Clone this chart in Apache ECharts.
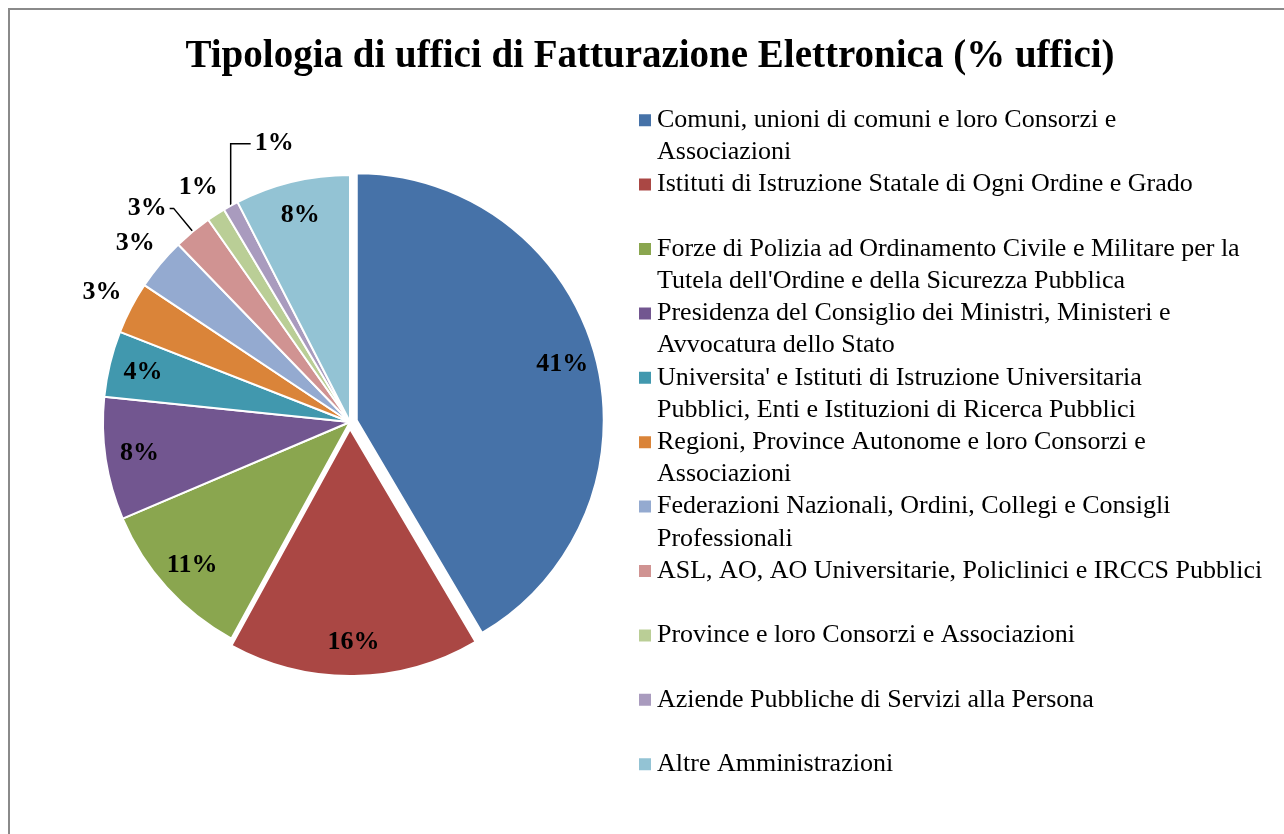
<!DOCTYPE html>
<html>
<head>
<meta charset="utf-8">
<script src="https://cdn.jsdelivr.net/npm/echarts@6/dist/echarts.min.js"></script>
<style>
  html, body { margin: 0; padding: 0; background: #fff; overflow: hidden; }
  .frame {
    position: absolute;
    left: 8px;
    top: 8px;
    width: 1300px;
    height: 850px;
    border: 2px solid #8a8a8a;
    box-sizing: border-box;
  }
  #chart { width: 1296px; height: 846px; }
</style>
</head>
<body>
<div class="frame"><div id="chart"></div></div>
<script>
let categories = [
  "Comuni, unioni di comuni e loro Consorzi e Associazioni",
  "Istituti di Istruzione Statale di Ogni Ordine e Grado",
  "Forze di Polizia ad Ordinamento Civile e Militare per la Tutela dell'Ordine e della Sicurezza Pubblica",
  "Presidenza del Consiglio dei Ministri, Ministeri e Avvocatura dello Stato",
  "Universita' e Istituti di Istruzione Universitaria Pubblici, Enti e Istituzioni di Ricerca Pubblici",
  "Regioni, Province Autonome e loro Consorzi e Associazioni",
  "Federazioni Nazionali, Ordini, Collegi e Consigli Professionali",
  "ASL, AO, AO Universitarie, Policlinici e IRCCS Pubblici",
  "Province e loro Consorzi e Associazioni",
  "Aziende Pubbliche di Servizi alla Persona",
  "Altre Amministrazioni"
]
// legend text as wrapped in the original (every entry takes two lines)
let legendText = [
  "Comuni, unioni di comuni e loro Consorzi e\nAssociazioni",
  "Istituti di Istruzione Statale di Ogni Ordine e Grado\n ",
  "Forze di Polizia ad Ordinamento Civile e Militare per la\nTutela dell'Ordine e della Sicurezza Pubblica",
  "Presidenza del Consiglio dei Ministri, Ministeri e\nAvvocatura dello Stato",
  "Universita' e Istituti di Istruzione Universitaria\nPubblici, Enti e Istituzioni di Ricerca Pubblici",
  "Regioni, Province Autonome e loro Consorzi e\nAssociazioni",
  "Federazioni Nazionali, Ordini, Collegi e Consigli\nProfessionali",
  "ASL, AO, AO Universitarie, Policlinici e IRCCS Pubblici\n ",
  "Province e loro Consorzi e Associazioni\n ",
  "Aziende Pubbliche di Servizi alla Persona\n ",
  "Altre Amministrazioni\n "
]
// % uffici
let values = [41.4, 16.4, 10.6, 8.0, 4.3, 3.4, 3.4, 2.5, 1.2, 1.0, 7.5]
let colors = ['#4672a8', '#aa4744', '#8aa64f', '#725690', '#4198ae', '#da8439',
  '#94aad0', '#d09392', '#bace96', '#a99bbe', '#93c3d4']
// where each label sits: inner ring, outer ring, or with a leader line
let labelPlace = ['in', 'in', 'in', 'in', 'in', 'out', 'out', 'line', 'out', 'line', 'in']
let exploded = [0, 1]

const FONT = '"Liberation Serif", "DejaVu Serif", serif'
const center = [340, 412]
const R = 247

let mychart = echarts.init(document.getElementById('chart'))

let labelFmt = (p) => Math.round(p.value) + '%'
let labelStyle = {
  fontFamily: FONT,
  fontWeight: 'bold',
  fontSize: 26,
  color: '#000'
}

let mainData = categories.map((name, i) => {
  let item = {
    name: name,
    value: values[i],
    selected: exploded.indexOf(i) >= 0,
    itemStyle: { color: colors[i] },
    label: { show: false },
    labelLine: { show: false }
  }
  if (labelPlace[i] === 'line') {
    item.label = { show: true, position: 'outside' }
    item.labelLine = { show: true, length: 30, length2: 4 }
  }
  return item
})

let ringData = (place) => categories.map((name, i) => ({
  name: name,
  value: values[i],
  selected: exploded.indexOf(i) >= 0,
  label: { show: labelPlace[i] === place },
  select: { label: { show: labelPlace[i] === place } }
}))

// invisible rings that only carry labels, drawn above the real pie
let ringSeries = (place, radius) => ({
  type: 'pie',
  z: 5,
  center: center,
  radius: radius,
  startAngle: 90,
  clockwise: true,
  silent: true,
  selectedMode: 'multiple',
  selectedOffset: 7,
  itemStyle: { color: 'rgba(0,0,0,0)', borderWidth: 0 },
  select: {
    itemStyle: { color: 'rgba(0,0,0,0)', borderWidth: 0 },
    label: Object.assign({}, labelStyle)
  },
  emphasis: { disabled: true },
  label: Object.assign({ position: 'inside', formatter: labelFmt }, labelStyle),
  labelLine: { show: false },
  tooltip: { show: false },
  data: ringData(place)
})

// the 1% of "Aziende" has its label to the right of an upright leader
let leaderUp = (p) => {
  if (p.seriesIndex !== 0 || p.dataIndex !== 9 || !p.labelLinePoints) return {}
  let s = p.labelLinePoints[0]
  let top = s[1] - 62
  return {
    x: s[0] + 24,
    y: top,
    align: 'left',
    verticalAlign: 'middle',
    labelLinePoints: [s, [s[0], top], [s[0] + 20, top]]
  }
}

let options = {
  animation: false,
  title: {
    text: 'Tipologia di uffici di Fatturazione Elettronica (% uffici)',
    left: 635,
    textAlign: 'center',
    top: 22,
    textStyle: {
      fontFamily: FONT,
      fontWeight: 'bold',
      fontSize: 39,
      color: '#000'
    }
  },
  legend: {
    orient: 'vertical',
    left: 622,
    top: 89,
    // square at the top of a tall icon so it lines up with the first text line
    icon: 'path://M0,0h14v14h-14z M0,46h0.01v0.01h-0.01z',
    itemWidth: 14,
    itemHeight: 46,
    itemGap: 0,
    selectedMode: false,
    formatter: (name) => legendText[categories.indexOf(name)],
    textStyle: {
      fontFamily: FONT,
      fontSize: 26,
      lineHeight: 32.2,
      color: '#000'
    },
    data: categories
  },
  series: [
    {
      type: 'pie',
      center: center,
      radius: [0, R],
      startAngle: 90,
      clockwise: true,
      avoidLabelOverlap: false,
      selectedMode: 'multiple',
      selectedOffset: 7,
      itemStyle: { borderColor: '#fff', borderWidth: 2 },
      select: { itemStyle: { borderColor: '#fff', borderWidth: 2 } },
      emphasis: { scale: false },
      label: Object.assign({ formatter: labelFmt, distanceToLabelLine: 3 }, labelStyle),
      labelLine: { lineStyle: { color: '#000', width: 1.5 } },
      labelLayout: leaderUp,
      data: mainData
    },
    ringSeries('in', [R * 0.7, R]),
    ringSeries('out', [R, R * 1.24])
  ]
}

mychart.setOption(options)
window.addEventListener('resize', () => {
  mychart?.resize()
})
</script>
</body>
</html>
